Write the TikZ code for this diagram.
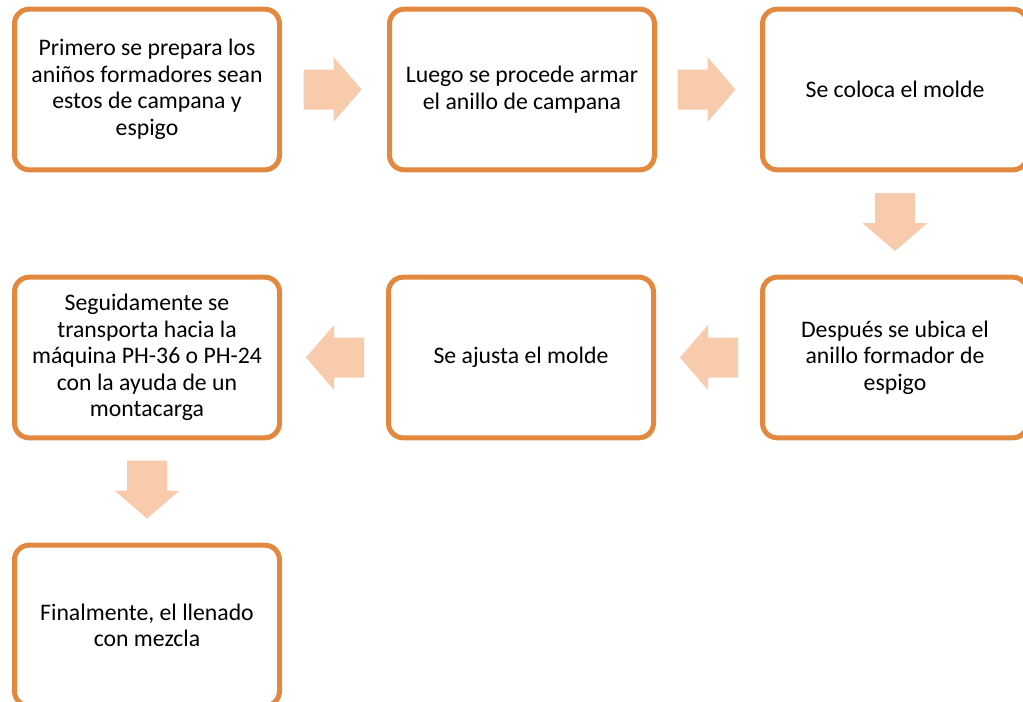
\documentclass[tikz,border=0pt]{standalone}
\usepackage{fontspec}
\setmainfont{Carlito}
\usetikzlibrary{calc}
\definecolor{boxline}{HTML}{E3893F}
\definecolor{arrowfill}{HTML}{F8CBAD}
\tikzset{
  stepbox/.style={draw=boxline, line width=3.75pt, rounded corners=11pt, fill=white,
    minimum width=198.75pt, minimum height=120.5pt, align=center,
    font=\fontsize{17.8}{19.9}\selectfont, text=black, inner sep=0pt},
  barrow/.pic={\fill[arrowfill] (-29,-20) -- (1,-20) -- (1,-32.5) -- (29,0) -- (1,32.5) -- (1,20) -- (-29,20) -- cycle;}
}
\begin{document}
\begin{tikzpicture}[x=0.75pt,y=-0.75pt]
\useasboundingbox (0,0) rectangle (1023,701);
\clip (0,0) rectangle (1023,701);
\node[stepbox] (b1) at (147,89.5) {Primero se prepara los\\aniños formadores sean\\estos de campana y\\espigo};
\node[stepbox] (b2) at (522,89.5) {Luego se procede armar\\el anillo de campana};
\node[stepbox] (b3) at (895,89.5) {Se coloca el molde};
\node[stepbox] (b6) at (895,357.5) {Después se ubica el\\anillo formador de\\espigo};
\node[stepbox] (b5) at (521,357.5) {Se ajusta el molde};
\node[stepbox] (b4) at (147,357.5) {Seguidamente se\\transporta hacia la\\máquina PH-36 o PH-24\\con la ayuda de un\\montacarga};
\node[stepbox] (b7) at (147,625.5) {Finalmente, el llenado\\con mezcla};
\coordinate (m12) at ($(b1.east)!0.5!(b2.west)$);
\coordinate (m23) at ($(b2.east)!0.5!(b3.west)$);
\coordinate (m36) at ($(b3.south)!0.5!(b6.north)$);
\coordinate (m65) at ($(b6.west)!0.5!(b5.east)$);
\coordinate (m54) at ($(b5.west)!0.5!(b4.east)$);
\coordinate (m47) at ($(b4.south)!0.5!(b7.north)$);
\pic at ($(m12)+(-2,0)$) {barrow};
\pic at ($(m23)+(-2,0)$) {barrow};
\pic[rotate=-90] at ($(m36)+(0,-1.5)$) {barrow};
\pic[rotate=180] at ($(m65)+(1,0)$) {barrow};
\pic[rotate=180] at ($(m54)+(1,0)$) {barrow};
\pic[rotate=-90] at ($(m47)+(0,-2)$) {barrow};
\end{tikzpicture}
\end{document}
